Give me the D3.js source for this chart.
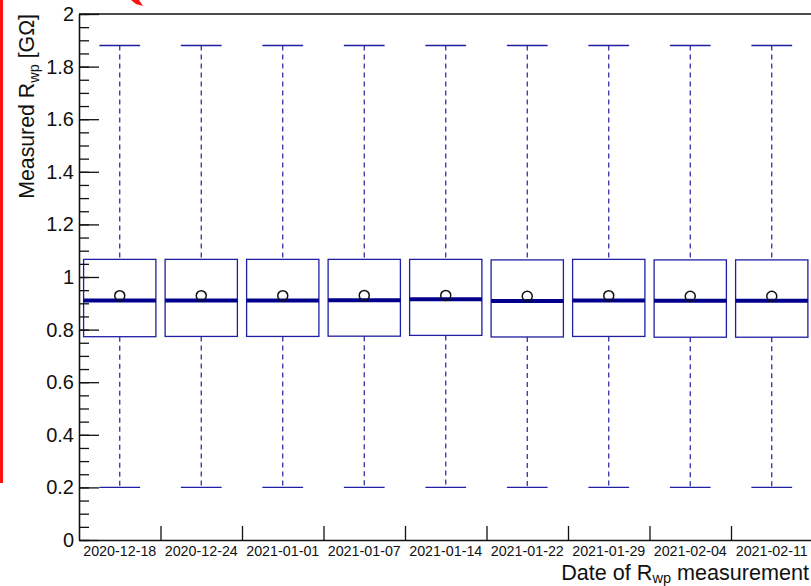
<!DOCTYPE html>
<html>
<head>
<meta charset="utf-8">
<script src="https://cdn.jsdelivr.net/npm/d3@7"></script>
<style>
  html, body { margin: 0; padding: 0; background: #fff; }
  svg { display: block; font-family: "Liberation Sans", Arial, Helvetica, sans-serif; }
</style>
</head>
<body>
<svg id="chart" width="811" height="586"></svg>
<script>
// Measurement dates (one candle per date)
const dates = ["2020-12-18", "2020-12-24", "2021-01-01", "2021-01-07", "2021-01-14",
               "2021-01-22", "2021-01-29", "2021-02-04", "2021-02-11"];

// Candle statistics per date, in GΩ
const whiskerLow  = [0.20, 0.20, 0.20, 0.20, 0.20, 0.20, 0.20, 0.20, 0.20];
const boxLow      = [0.773, 0.774, 0.774, 0.775, 0.778, 0.772, 0.774, 0.771, 0.771];
const medians     = [0.911, 0.911, 0.911, 0.912, 0.915, 0.909, 0.911, 0.910, 0.910];
const means       = [0.929, 0.929, 0.929, 0.930, 0.930, 0.927, 0.929, 0.927, 0.927];
const boxHigh     = [1.067, 1.067, 1.067, 1.067, 1.067, 1.065, 1.067, 1.065, 1.065];
const whiskerHigh = [1.88, 1.88, 1.88, 1.88, 1.88, 1.88, 1.88, 1.88, 1.88];

// Y axis ticks
const yMajorTicks = [0, 0.2, 0.4, 0.6, 0.8, 1, 1.2, 1.4, 1.6, 1.8, 2];
const yMinorTicks = d3.range(0, 41).map(i => i * 0.05);

const rows = dates.map((d, i) => ({
  date: d, lo: whiskerLow[i], q1: boxLow[i], med: medians[i],
  mean: means[i], q3: boxHigh[i], hi: whiskerHigh[i]
}));

const svg = d3.select("#chart");

const plotLeft = 79, plotRight = 812.5, plotTop = 14, plotBottom = 540;

const x = d3.scaleBand().domain(dates).range([plotLeft, plotRight]).padding(0);
const xEdge = d3.scaleLinear().domain([0, dates.length]).range([plotLeft, plotRight]);
const y = d3.scaleLinear().domain([0, 2]).range([plotBottom, plotTop]);

const boxColor = "#1f1fa3";
const medColor = "#00008c";

// Frame (top and right edges)
svg.append("path")
  .attr("d", `M${plotLeft},${plotTop}H${plotRight}V${plotBottom}`)
  .attr("fill", "none").attr("stroke", "#111").attr("stroke-width", 1.3);

// Candles
const bw = x.bandwidth();
const boxW = bw * 0.887;
const capW = bw * 0.5;

const c = svg.append("g").selectAll("g.candle").data(rows).join("g").attr("class", "candle")
  .attr("transform", d => `translate(${x(d.date) + bw / 2},0)`);

// whiskers (dashed)
c.append("line")
  .attr("x1", 0).attr("x2", 0)
  .attr("y1", d => y(d.hi)).attr("y2", d => y(d.q3))
  .attr("stroke", boxColor).attr("stroke-width", 1.2).attr("stroke-dasharray", "5,4");
c.append("line")
  .attr("x1", 0).attr("x2", 0)
  .attr("y1", d => y(d.q1)).attr("y2", d => y(d.lo))
  .attr("stroke", boxColor).attr("stroke-width", 1.2).attr("stroke-dasharray", "5,4");

// whisker caps
c.append("line")
  .attr("x1", -capW / 2).attr("x2", capW / 2)
  .attr("y1", d => y(d.hi)).attr("y2", d => y(d.hi))
  .attr("stroke", boxColor).attr("stroke-width", 1.4);
c.append("line")
  .attr("x1", -capW / 2).attr("x2", capW / 2)
  .attr("y1", d => y(d.lo)).attr("y2", d => y(d.lo))
  .attr("stroke", boxColor).attr("stroke-width", 1.4);

// box
c.append("rect")
  .attr("x", -boxW / 2).attr("width", boxW)
  .attr("y", d => y(d.q3)).attr("height", d => y(d.q1) - y(d.q3))
  .attr("fill", "none").attr("stroke", boxColor).attr("stroke-width", 1.3);

// median
c.append("line")
  .attr("x1", -boxW / 2).attr("x2", boxW / 2)
  .attr("y1", d => y(d.med)).attr("y2", d => y(d.med))
  .attr("stroke", medColor).attr("stroke-width", 4);

// mean marker
c.append("circle")
  .attr("cx", 0).attr("cy", d => y(d.mean)).attr("r", 5)
  .attr("fill", "none").attr("stroke", "#111").attr("stroke-width", 1.5);

// Y axis: minor ticks, then major ticks with labels, drawn inward
const yMinorG = svg.append("g").attr("transform", `translate(${plotLeft},0)`)
  .call(d3.axisLeft(y).tickValues(yMinorTicks).tickSize(-10).tickSizeOuter(0).tickFormat(""));
yMinorG.selectAll(".tick line").attr("stroke", "#111").attr("stroke-width", 1.3);
const yMajorG = svg.append("g").attr("transform", `translate(${plotLeft},0)`)
  .call(d3.axisLeft(y).tickValues(yMajorTicks).tickSize(-20).tickSizeOuter(0)
    .tickPadding(5).tickFormat(d => d3.format("~g")(d)));
yMajorG.selectAll(".tick line").attr("stroke", "#111").attr("stroke-width", 1.3);
yMajorG.selectAll(".tick text").attr("font-size", 20).attr("fill", "#111")
  .attr("font-family", "Liberation Sans, Arial, sans-serif");
svg.selectAll(".domain").attr("stroke", "#111").attr("stroke-width", 1.3);

// X axis: category labels at bin centres, ticks at bin edges
const xLabG = svg.append("g").attr("transform", `translate(0,${plotBottom})`)
  .call(d3.axisBottom(x).tickSize(0).tickPadding(6).tickSizeOuter(0));
xLabG.select(".domain").attr("stroke", "#111").attr("stroke-width", 1.3);
xLabG.selectAll(".tick text").attr("font-size", 14.3).attr("fill", "#111")
  .attr("font-family", "Liberation Sans, Arial, sans-serif");
const xTickG = svg.append("g").attr("transform", `translate(0,${plotBottom})`)
  .call(d3.axisBottom(xEdge).tickValues(d3.range(1, dates.length)).tickSize(-14).tickSizeOuter(0).tickFormat(""));
xTickG.select(".domain").remove();
xTickG.selectAll(".tick line").attr("stroke", "#111").attr("stroke-width", 1.3);

// Axis titles
const yTitle = svg.append("text")
  .attr("transform", `translate(34,${plotTop}) rotate(-90)`)
  .attr("text-anchor", "end").attr("font-size", 21.3).attr("fill", "#111");
yTitle.append("tspan").text("Measured R");
yTitle.append("tspan").attr("font-size", 14.5).attr("dy", 5).text("wp");
yTitle.append("tspan").attr("dy", -5).text(" [GΩ]");

const xTitle = svg.append("text")
  .attr("x", 809).attr("y", 580)
  .attr("text-anchor", "end").attr("font-size", 21.6).attr("fill", "#111");
xTitle.append("tspan").text("Date of R");
xTitle.append("tspan").attr("font-size", 14.5).attr("dy", 3).text("wp");
xTitle.append("tspan").attr("dy", -3).text(" measurement");

// Red annotation marks along the left edge and top
svg.append("line").attr("x1", 1.5).attr("x2", 1.5).attr("y1", 0).attr("y2", 483)
  .attr("stroke", "#ff1010").attr("stroke-width", 3);
svg.append("path").attr("d", "M131,0 L139,0 L143,6 L136,4 Z").attr("fill", "#ff1010");
</script>
</body>
</html>
